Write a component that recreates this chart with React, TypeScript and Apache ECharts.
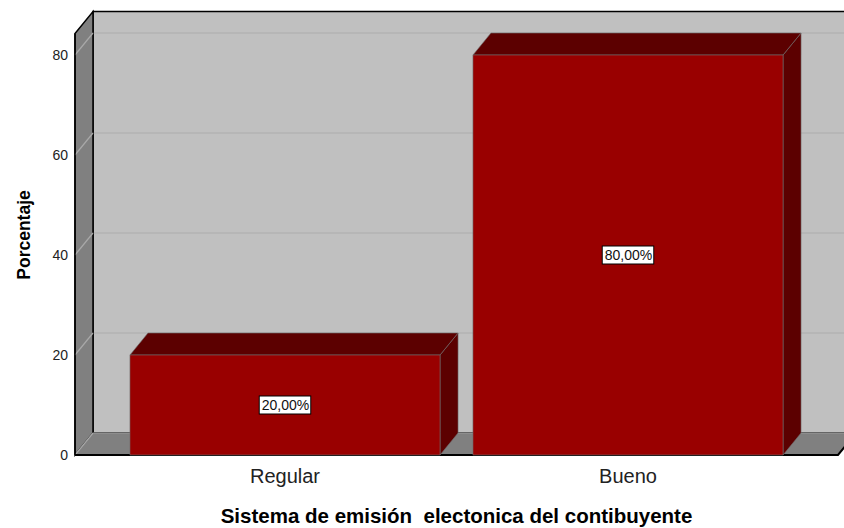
import React, { useEffect, useRef } from "react";
import * as echarts from "echarts";

const CATEGORIES = ["Regular", "Bueno"];
const PERCENTAGES = [20, 80];
const Y_TICKS = [0, 20, 40, 60, 80];
const Y_MAX = 80;
const WALL_TOP = 84.3;
const X_TITLE = "Sistema de emisión  electonica del contibuyente";
const Y_TITLE = "Porcentaje";

const DX = 18;
const DY = 22;
const PAD = 38.5;
const BAR_RATIO = 0.904;
const FONT = "'Liberation Sans', Arial, sans-serif";

function fmt(v: number) {
  return v.toFixed(2).replace(".", ",") + "%";
}

export default function App() {
  const ref = useRef<HTMLDivElement>(null);
  useEffect(() => {
    document.body.style.margin = "0";
    const chart = echarts.init(ref.current as HTMLDivElement, null, { renderer: "svg" });

    const wallItem = (params: any, api: any) => {
      const cs = params.coordSys;
      const L = cs.x - PAD;
      const R = cs.x + cs.width + PAD;
      const y0 = api.coord([0, 0])[1];
      const yT = api.coord([0, WALL_TOP])[1];
      const children: any[] = [];
      children.push({
        type: "rect",
        shape: { x: L + DX, y: yT - DY, width: R - L, height: y0 - yT },
        style: { fill: "#c0c0c0", stroke: "#000", lineWidth: 1.5 },
      });
      Y_TICKS.forEach((t) => {
        if (t === 0) return;
        const y = api.coord([0, t])[1];
        children.push({
          type: "line",
          shape: { x1: L + DX, y1: y - DY, x2: R + DX + 40, y2: y - DY },
          style: { stroke: "#acacac", lineWidth: 1.2 },
        });
      });
      children.push({
        type: "polygon",
        shape: { points: [[L, y0], [L, yT], [L + DX, yT - DY], [L + DX, y0 - DY]] },
        style: { fill: "#808080", stroke: "#000", lineWidth: 1.5 },
      });
      children.push({
        type: "polygon",
        shape: { points: [[L, y0], [L + DX, y0 - DY], [R + DX, y0 - DY], [R, y0]] },
        style: { fill: "#808080", stroke: null },
      });
      Y_TICKS.forEach((t) => {
        const y = api.coord([0, t])[1];
        children.push({
          type: "line",
          shape: { x1: L, y1: y, x2: L + DX, y2: y - DY },
          style: { stroke: "#a8a8a8", lineWidth: 1.2 },
        });
      });
      children.push({
        type: "line",
        shape: { x1: L + DX, y1: y0 - DY, x2: R + DX, y2: y0 - DY },
        style: { stroke: "#9a9a9a", lineWidth: 1 },
      });
      children.push({
        type: "line",
        shape: { x1: L, y1: y0, x2: L, y2: yT },
        style: { stroke: "#000", lineWidth: 1.5 },
      });
      children.push({
        type: "polyline",
        shape: { points: [[L, y0], [R, y0], [R + DX, y0 - DY]] },
        style: { stroke: "#000", lineWidth: 2, fill: null },
      });
      return { type: "group", children };
    };

    const barItem = (params: any, api: any) => {
      const xi = api.value(0);
      const v = api.value(1);
      const top = api.coord([xi, v]);
      const base = api.coord([xi, 0]);
      const bw = api.size([1, 0])[0] * BAR_RATIO;
      const l = top[0] - bw / 2;
      const r = top[0] + bw / 2;
      const edge = { stroke: "#6e6e6e", lineWidth: 0.6 };
      return {
        type: "group",
        children: [
          {
            type: "polygon",
            shape: { points: [[r, top[1]], [r + DX, top[1] - DY], [r + DX, base[1] - DY], [r, base[1]]] },
            style: { fill: "#5c0000", ...edge },
          },
          {
            type: "polygon",
            shape: { points: [[l, top[1]], [l + DX, top[1] - DY], [r + DX, top[1] - DY], [r, top[1]]] },
            style: { fill: "#5c0000", ...edge },
          },
          {
            type: "rect",
            shape: { x: l, y: top[1], width: bw, height: base[1] - top[1] },
            style: { fill: "#990000", ...edge },
          },
          {
            type: "text",
            x: top[0],
            y: (top[1] + base[1]) / 2,
            style: {
              text: fmt(v),
              fill: "#111",
              fontSize: 14,
              fontFamily: FONT,
              align: "center",
              verticalAlign: "middle",
              backgroundColor: "#fff",
              borderColor: "#000",
              borderWidth: 1,
              padding: [2, 1, 1, 2],
            },
          },
        ],
      };
    };

    chart.setOption({
      animation: false,
      backgroundColor: "#fff",
      grid: { left: 113.5, right: 44.5, top: 55, bottom: 73, containLabel: false, outerBoundsMode: "none" },
      xAxis: {
        type: "category",
        data: CATEGORIES,
        axisLine: { show: false },
        axisTick: { show: false },
        splitLine: { show: false },
        axisLabel: { fontSize: 20, color: "#222", margin: 11, fontFamily: FONT },
        name: X_TITLE,
        nameLocation: "middle",
        nameGap: 50,
        nameTextStyle: { fontSize: 20.5, lineHeight: 21, fontWeight: "bold", color: "#000", fontFamily: FONT },
      },
      yAxis: {
        type: "value",
        min: 0,
        max: Y_MAX,
        interval: 20,
        axisLine: { show: false },
        axisTick: { show: false },
        splitLine: { show: false },
        axisLabel: { fontSize: 14, color: "#222", margin: 45.5, fontFamily: FONT },
        name: Y_TITLE,
        nameLocation: "middle",
        nameGap: 81,
        nameTextStyle: { fontSize: 17.5, fontWeight: "bold", color: "#000", fontFamily: FONT, padding: [0, 0, 0, 40] },
      },
      series: [
        {
          type: "custom",
          renderItem: wallItem,
          data: [[0, 0]],
          encode: { x: 0, y: 1 },
          clip: false,
          silent: true,
          z: 1,
        },
        {
          type: "custom",
          renderItem: barItem,
          data: PERCENTAGES.map((v, i) => [i, v]),
          encode: { x: 0, y: 1 },
          clip: false,
          z: 2,
        },
      ],
    });
    return () => chart.dispose();
  }, []);
  return <div ref={ref} style={{ width: 844, height: 528 }} />;
}
